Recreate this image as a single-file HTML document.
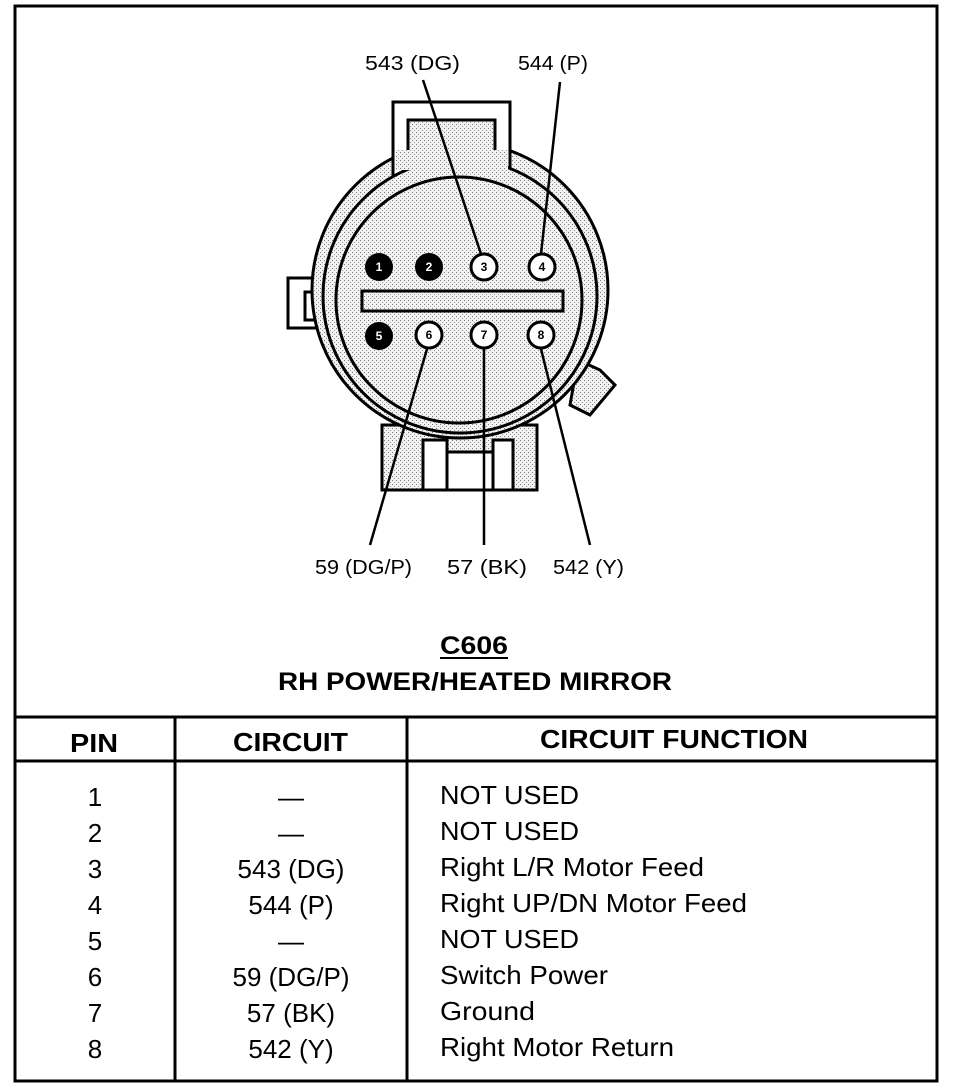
<!DOCTYPE html>
<html><head><meta charset="utf-8"><style>
html,body{margin:0;padding:0;background:#fff;}
svg{display:block;}
text{font-family:"Liberation Sans",Arial,sans-serif;fill:#000;}
</style></head><body>
<svg width="960" height="1088" viewBox="0 0 960 1088" xmlns="http://www.w3.org/2000/svg">
<defs>
<pattern id="st" width="4" height="4" patternUnits="userSpaceOnUse">
<rect width="4" height="4" fill="#f2f2f2"/><rect x="0" y="0" width="1" height="1" fill="#777"/><rect x="2" y="2" width="1" height="1" fill="#999"/>
</pattern>
</defs>
<rect x="15" y="6" width="922" height="1075" fill="none" stroke="#000" stroke-width="3"/>
<rect x="382" y="425" width="155" height="65" fill="url(#st)" stroke="#000" stroke-width="3"/>
<rect x="423" y="440" width="24" height="50" fill="#fff" stroke="#000" stroke-width="3"/>
<rect x="493" y="440" width="20" height="50" fill="#fff" stroke="#000" stroke-width="3"/>
<rect x="447" y="452" width="46" height="38" fill="#fff" stroke="#000" stroke-width="3"/>
<rect x="288" y="278" width="40" height="50" fill="#fff" stroke="#000" stroke-width="3"/>
<rect x="305" y="292" width="25" height="28" fill="#fff" stroke="#000" stroke-width="3"/>
<polygon points="578,360 600,370 615,385 590,415 570,405" fill="url(#st)" stroke="#000" stroke-width="3"/>
<circle cx="460" cy="290" r="148" fill="url(#st)" stroke="#000" stroke-width="3"/>
<rect x="393" y="102" width="117" height="80" fill="#fff" stroke="#000" stroke-width="3"/>
<rect x="408" y="120" width="87" height="70" fill="url(#st)" stroke="#000" stroke-width="3"/>
<circle cx="460" cy="296" r="137" fill="url(#st)" stroke="#000" stroke-width="3"/>
<rect x="395" y="150" width="113" height="20" fill="url(#st)"/>
<circle cx="459" cy="300" r="123" fill="url(#st)" stroke="#000" stroke-width="3"/>
<rect x="362" y="291" width="201" height="20" fill="url(#st)" stroke="#000" stroke-width="3"/>
<g font-size="12" font-weight="bold" text-anchor="middle">
<circle cx="379" cy="267" r="14" fill="#000"/><text x="379" y="271" style="fill:#fff">1</text>
<circle cx="429" cy="267" r="14" fill="#000"/><text x="429" y="271" style="fill:#fff">2</text>
<circle cx="484" cy="267" r="13" fill="#fff" stroke="#000" stroke-width="3"/><text x="484" y="271">3</text>
<circle cx="542" cy="267" r="13" fill="#fff" stroke="#000" stroke-width="3"/><text x="542" y="271">4</text>
<circle cx="379" cy="336" r="14" fill="#000"/><text x="379" y="340" style="fill:#fff">5</text>
<circle cx="429" cy="335" r="13" fill="#fff" stroke="#000" stroke-width="3"/><text x="429" y="339">6</text>
<circle cx="484" cy="335" r="13" fill="#fff" stroke="#000" stroke-width="3"/><text x="484" y="339">7</text>
<circle cx="541" cy="335" r="13" fill="#fff" stroke="#000" stroke-width="3"/><text x="541" y="339">8</text>
</g>
<g stroke="#000" stroke-width="2.5">
<line x1="481" y1="254" x2="423" y2="80"/>
<line x1="541" y1="254" x2="560" y2="82"/>
<line x1="427" y1="349" x2="370" y2="545"/>
<line x1="484" y1="349" x2="484" y2="545"/>
<line x1="541" y1="349" x2="590" y2="545"/>
</g>
<g font-size="20" lengthAdjust="spacingAndGlyphs">
<text x="365" y="70" textLength="95" lengthAdjust="spacingAndGlyphs">543 (DG)</text>
<text x="518" y="70" textLength="70" lengthAdjust="spacingAndGlyphs">544 (P)</text>
<text x="315" y="574" textLength="97" lengthAdjust="spacingAndGlyphs">59 (DG/P)</text>
<text x="447" y="574" textLength="80" lengthAdjust="spacingAndGlyphs">57  (BK)</text>
<text x="553" y="574" textLength="71" lengthAdjust="spacingAndGlyphs">542 (Y)</text>
</g>
<g font-size="25" font-weight="bold">
<text x="440" y="654" textLength="68" lengthAdjust="spacingAndGlyphs">C606</text>
<text x="278" y="690" textLength="394" lengthAdjust="spacingAndGlyphs">RH POWER/HEATED MIRROR</text>
</g>
<line x1="440" y1="658" x2="508" y2="658" stroke="#000" stroke-width="2"/>
<g stroke="#000" stroke-width="3">
<line x1="15" y1="717" x2="937" y2="717"/>
<line x1="15" y1="761" x2="937" y2="761"/>
<line x1="175" y1="717" x2="175" y2="1081"/>
<line x1="407" y1="717" x2="407" y2="1081"/>
</g>
<g font-size="26" font-weight="bold">
<text x="70" y="752" textLength="48" lengthAdjust="spacingAndGlyphs">PIN</text>
<text x="233" y="751" textLength="115" lengthAdjust="spacingAndGlyphs">CIRCUIT</text>
<text x="540" y="748" textLength="268" lengthAdjust="spacingAndGlyphs">CIRCUIT FUNCTION</text>
</g>
<g font-size="26" text-anchor="middle">
<text x="95" y="806">1</text><text x="95" y="842">2</text><text x="95" y="878">3</text><text x="95" y="914">4</text>
<text x="95" y="950">5</text><text x="95" y="986">6</text><text x="95" y="1022">7</text><text x="95" y="1058">8</text>
<text x="291" y="806">—</text><text x="291" y="842">—</text><text x="291" y="878">543 (DG)</text><text x="291" y="914">544 (P)</text>
<text x="291" y="950">—</text><text x="291" y="986">59 (DG/P)</text><text x="291" y="1022">57 (BK)</text><text x="291" y="1058">542 (Y)</text>
</g>
<g font-size="26">
<text x="440" y="804" textLength="139" lengthAdjust="spacingAndGlyphs">NOT USED</text>
<text x="440" y="840" textLength="139" lengthAdjust="spacingAndGlyphs">NOT USED</text>
<text x="440" y="876" textLength="264" lengthAdjust="spacingAndGlyphs">Right L/R Motor Feed</text>
<text x="440" y="912" textLength="307" lengthAdjust="spacingAndGlyphs">Right UP/DN Motor Feed</text>
<text x="440" y="948" textLength="139" lengthAdjust="spacingAndGlyphs">NOT USED</text>
<text x="440" y="984" textLength="168" lengthAdjust="spacingAndGlyphs">Switch Power</text>
<text x="440" y="1020" textLength="95" lengthAdjust="spacingAndGlyphs">Ground</text>
<text x="440" y="1056" textLength="234" lengthAdjust="spacingAndGlyphs">Right Motor Return</text>
</g>
</svg>
</body></html>
